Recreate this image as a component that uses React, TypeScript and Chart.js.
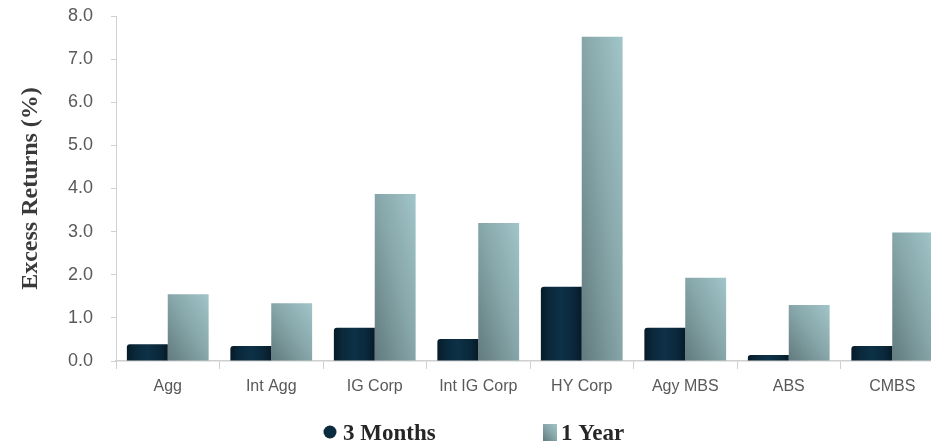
import React, { useEffect, useRef } from "react";
import { Chart, registerables } from "chart.js";

Chart.register(...registerables);

const categories = ["Agg", "Int Agg", "IG Corp", "Int IG Corp", "HY Corp", "Agy MBS", "ABS", "CMBS"];
const threeMonths = [0.39, 0.35, 0.77, 0.51, 1.72, 0.77, 0.14, 0.35];
const oneYear = [1.55, 1.34, 3.87, 3.2, 7.52, 1.93, 1.3, 2.98];
const seriesNames = ["3 Months", "1 Year"];
const yAxisTitle = "Excess Returns (%)";
const yMin = 0;
const yMax = 8;
const yStep = 1;

const CAT_PCT = 0.79;

function barBox(ctx: any) {
  const chart = ctx.chart;
  const xs = chart.scales?.x;
  const ys = chart.scales?.y;
  if (!xs || !ys || !chart.chartArea || ctx.dataIndex === undefined) return null;
  const i = ctx.dataIndex;
  const data = ctx.datasetIndex === 0 ? threeMonths : oneYear;
  const center = xs.getPixelForValue(i);
  const cw = xs.width / categories.length;
  const group = cw * CAT_PCT;
  const bw = group / 2;
  const left = ctx.datasetIndex === 0 ? center - group / 2 : center;
  const top = ys.getPixelForValue(data[i]);
  const base = ys.getPixelForValue(0);
  return { left, right: left + bw, top, base };
}

function darkFill(ctx: any) {
  const b = barBox(ctx);
  if (!b) return "#0b2b3e";
  const g = ctx.chart.ctx.createLinearGradient(b.left, 0, b.right, 0);
  g.addColorStop(0, "#061b28");
  g.addColorStop(0.2, "#0a283a");
  g.addColorStop(0.5, "#0d3147");
  g.addColorStop(0.8, "#0a283a");
  g.addColorStop(1, "#061b28");
  return g;
}

function lightGradient(c: CanvasRenderingContext2D, L: number, R: number, T: number, B: number) {
  const w = R - L;
  const h = B - T;
  const k = (2 * w * h) / (w * w + h * h || 1);
  const g = c.createLinearGradient(L, B, L + h * k, B - w * k);
  g.addColorStop(0, "#617a7d");
  g.addColorStop(0.5, "#86a5a8");
  g.addColorStop(1, "#a1c5c9");
  return g;
}

function lightFill(ctx: any) {
  const b = barBox(ctx);
  if (!b) return "#8aa9ac";
  return lightGradient(ctx.chart.ctx, b.left, b.right, b.top, b.base);
}

const legendPlugin = {
  id: "customLegend",
  afterDraw(chart: any) {
    const c: CanvasRenderingContext2D = chart.ctx;
    const cx = chart.width / 2;
    const baseY = 440;
    c.save();
    c.font = "bold 23px 'Liberation Serif'";
    c.textBaseline = "alphabetic";
    c.textAlign = "left";
    // first item: circle marker
    c.beginPath();
    c.arc(cx - 142, 432, 6.5, 0, Math.PI * 2);
    c.fillStyle = "#0b2b3e";
    c.fill();
    c.fillStyle = "#262626";
    c.fillText(seriesNames[0], cx - 129, baseY);
    // second item: square marker
    const sl = cx + 71, st = 424, ss = 14;
    c.fillStyle = lightGradient(c, sl, sl + ss, st, st + ss + 3);
    c.fillRect(sl, st, ss, ss + 3);
    c.fillStyle = "#262626";
    c.fillText(seriesNames[1], cx + 89, baseY);
    c.restore();
  },
};

export default function App() {
  const ref = useRef<HTMLCanvasElement | null>(null);

  useEffect(() => {
    document.body.style.margin = "0";
    if (!ref.current) return;
    const chart = new Chart(ref.current, {
      type: "bar",
      data: {
        labels: categories,
        datasets: [
          {
            label: seriesNames[0],
            data: threeMonths,
            backgroundColor: darkFill,
            borderWidth: 0,
            borderRadius: { topLeft: 3, topRight: 0, bottomLeft: 0, bottomRight: 0 },
            borderSkipped: false,
            categoryPercentage: CAT_PCT,
            barPercentage: 1,
          },
          {
            label: seriesNames[1],
            data: oneYear,
            backgroundColor: lightFill,
            borderWidth: 0,
            categoryPercentage: CAT_PCT,
            barPercentage: 1,
          },
        ],
      },
      options: {
        responsive: false,
        animation: false,
        layout: { padding: { top: 16, left: 0, right: 0, bottom: 38 } },
        plugins: {
          legend: { display: false },
          tooltip: { enabled: false },
        },
        scales: {
          x: {
            grid: {
              offset: true,
              drawOnChartArea: false,
              drawTicks: true,
              tickLength: 8,
              color: "#d0d0d0",
            },
            border: { color: "#cfcfcf", width: 1.5 },
            ticks: {
              font: { family: "'Liberation Sans'", size: 16 },
              color: "#595959",
              padding: 8,
              maxRotation: 0,
            },
            afterFit: (s: any) => {
              s.height = 42;
            },
          },
          y: {
            min: yMin,
            max: yMax,
            grid: {
              drawOnChartArea: false,
              drawTicks: true,
              tickLength: 5,
              color: "#d0d0d0",
            },
            border: { color: "#d0d0d0", width: 1 },
            ticks: {
              stepSize: yStep,
              callback: (v: any) => Number(v).toFixed(1),
              font: { family: "'Liberation Sans'", size: 18 },
              color: "#595959",
              padding: 18,
            },
            title: {
              display: true,
              text: yAxisTitle,
              font: { family: "'Liberation Serif'", size: 24, weight: "bold" },
              color: "#3a3a3a",
              padding: { top: 16, bottom: 0 },
            },
            afterFit: (s: any) => {
              s.width = 116;
              s.paddingTop = 0;
              s.paddingBottom = 0;
            },
          },
        },
      },
      plugins: [legendPlugin],
    });
    return () => chart.destroy();
  }, []);

  return (
    <div style={{ width: 931, height: 441, overflow: "hidden", position: "relative", background: "#fff" }}>
      <canvas ref={ref} width={944} height={441} style={{ width: 944, height: 441, display: "block" }} />
    </div>
  );
}
